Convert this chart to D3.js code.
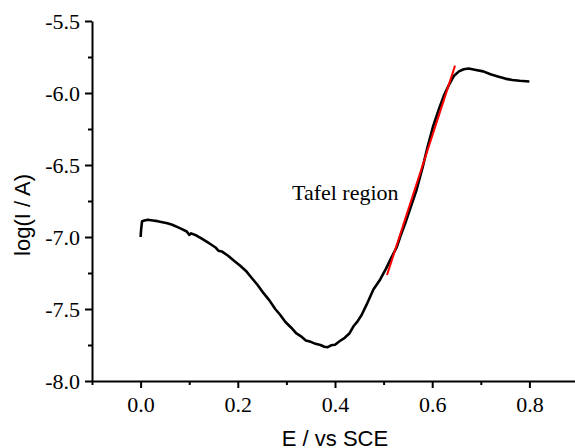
<!DOCTYPE html>
<html>
<head>
<meta charset="utf-8">
<script src="https://cdn.jsdelivr.net/npm/d3@7"></script>
<style>
	body { margin: 0; background: #fff; }
	svg { display: block; }
	.serif { font-family: "Liberation Serif", "Times New Roman", serif; }
	.sans { font-family: "Liberation Sans", Arial, sans-serif; }
</style>
</head>
<body>
<div id="chart"></div>
<script>
/*
 * Tafel plot: log(I / A) against potential E vs SCE
 */

var potential = [
	0.000, 0.001, 0.003, 0.008, 0.015, 0.025, 0.035, 0.045, 0.055, 0.065,
	0.075, 0.085, 0.095, 0.100, 0.104, 0.115, 0.125, 0.135, 0.145, 0.155,
	0.160, 0.167, 0.180, 0.191, 0.205, 0.218, 0.230, 0.240, 0.253, 0.265,
	0.277, 0.287, 0.298, 0.310, 0.320, 0.330, 0.340, 0.350, 0.360, 0.370,
	0.378, 0.385, 0.392, 0.400, 0.410, 0.420, 0.430, 0.438, 0.446, 0.455,
	0.465, 0.479, 0.493, 0.505, 0.515, 0.527, 0.534, 0.545, 0.556, 0.568,
	0.580, 0.590, 0.602, 0.615, 0.625, 0.635, 0.645, 0.655, 0.665, 0.675,
	0.690, 0.705, 0.720, 0.735, 0.750, 0.765, 0.780, 0.800
];
var logCurrent = [
	-7.000, -6.950, -6.890, -6.885, -6.880, -6.885, -6.890, -6.897, -6.905, -6.915,
	-6.930, -6.945, -6.962, -6.985, -6.975, -6.990, -7.010, -7.030, -7.052, -7.075,
	-7.095, -7.100, -7.130, -7.162, -7.200, -7.240, -7.290, -7.330, -7.390, -7.440,
	-7.500, -7.540, -7.590, -7.630, -7.668, -7.690, -7.718, -7.728, -7.742, -7.750,
	-7.762, -7.765, -7.752, -7.748, -7.722, -7.700, -7.668, -7.620, -7.588, -7.540,
	-7.470, -7.365, -7.295, -7.220, -7.150, -7.070, -7.000, -6.900, -6.790, -6.670,
	-6.520, -6.380, -6.230, -6.100, -6.010, -5.940, -5.880, -5.850, -5.835, -5.830,
	-5.840, -5.850, -5.870, -5.885, -5.900, -5.910, -5.915, -5.920
];

//Linear Tafel fit, end points
var fitPotential = [0.507, 0.647];
var fitLogCurrent = [-7.264, -5.810];

var xMajorTicks = [0.0, 0.2, 0.4, 0.6, 0.8];
var xMinorTicks = [-0.1, 0.1, 0.3, 0.5, 0.7];
var yMajorTicks = [-8.0, -7.5, -7.0, -6.5, -6.0, -5.5];
var yMinorTicks = [-7.75, -7.25, -6.75, -6.25, -5.75];

var width = 575, height = 448;
var margin = {left: 92, top: 21, right: 578, bottom: 381};

var svg = d3.select("#chart").append("svg")
	.attr("width", width)
	.attr("height", height);

var x = d3.scaleLinear().domain([-0.1, 0.9]).range([margin.left, margin.right]);
var y = d3.scaleLinear().domain([-8.0, -5.5]).range([margin.bottom, margin.top]);

//Plain hyphen for negative numbers, as in the original
var fmt = function(d){ return d3.format(".1f")(d).replace("\u2212", "-"); };

//Minor ticks first, then the labelled axes over them
svg.append("g")
	.attr("transform", "translate(0," + margin.bottom + ")")
	.call(d3.axisBottom(x).tickValues(xMinorTicks).tickSize(4).tickSizeOuter(0).tickFormat(""))
	.call(function(g){ g.select(".domain").remove(); })
	.selectAll("line").attr("stroke-width", 2);

svg.append("g")
	.attr("transform", "translate(" + margin.left + ",0)")
	.call(d3.axisLeft(y).tickValues(yMinorTicks).tickSize(4).tickSizeOuter(0).tickFormat(""))
	.call(function(g){ g.select(".domain").remove(); })
	.selectAll("line").attr("stroke-width", 2);

var xAxis = svg.append("g")
	.attr("transform", "translate(0," + margin.bottom + ")")
	.call(d3.axisBottom(x).tickValues(xMajorTicks).tickSize(7).tickSizeOuter(0).tickPadding(8).tickFormat(fmt));

var yAxis = svg.append("g")
	.attr("transform", "translate(" + margin.left + ",0)")
	.call(d3.axisLeft(y).tickValues(yMajorTicks).tickSize(7).tickSizeOuter(0).tickPadding(5).tickFormat(fmt));

[xAxis, yAxis].forEach(function(ax){
	ax.attr("font-family", null).attr("font-size", null);
	ax.select(".domain").attr("stroke-width", 2);
	ax.selectAll(".tick line").attr("stroke-width", 2);
	ax.selectAll(".tick text")
		.attr("class", "serif")
		.style("font-size", "22px")
		.attr("fill", "#000");
});

//Axis titles
svg.append("text")
	.attr("class", "sans")
	.attr("x", (margin.left + margin.right) / 2)
	.attr("y", 446)
	.attr("text-anchor", "middle")
	.style("font-size", "22px")
	.text("E / vs SCE");

svg.append("text")
	.attr("class", "sans")
	.attr("transform", "translate(30,215) rotate(-90)")
	.attr("text-anchor", "middle")
	.style("font-size", "22px")
	.text("log(I / A)");

//Measured curve
var data = potential.map(function(e, i){ return {e: e, v: logCurrent[i]}; });
var line = d3.line()
	.x(function(d){ return x(d.e); })
	.y(function(d){ return y(d.v); });

svg.append("path")
	.datum(data)
	.attr("fill", "none")
	.attr("stroke", "#000")
	.attr("stroke-width", 2.6)
	.attr("stroke-linejoin", "round")
	.attr("d", line);

//Tafel fit line
var fit = fitPotential.map(function(e, i){ return {e: e, v: fitLogCurrent[i]}; });
svg.append("path")
	.datum(fit)
	.attr("fill", "none")
	.attr("stroke", "#ff0000")
	.attr("stroke-width", 2)
	.attr("d", line);

svg.append("text")
	.attr("class", "serif")
	.attr("x", 292)
	.attr("y", 200)
	.style("font-size", "22px")
	.text("Tafel region");
</script>
</body>
</html>
